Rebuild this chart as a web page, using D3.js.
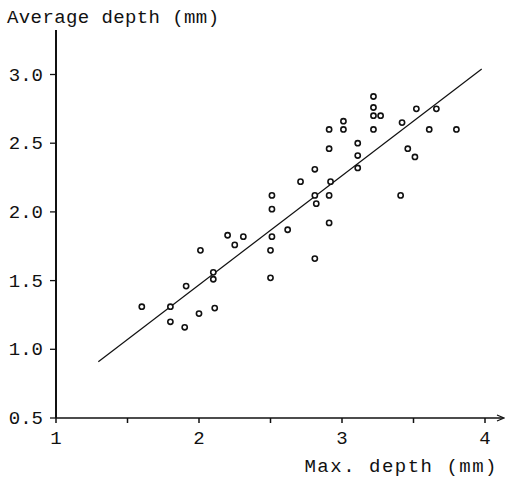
<!DOCTYPE html>
<html>
<head>
<meta charset="utf-8">
<script src="https://cdn.jsdelivr.net/npm/d3@7"></script>
<style>
  body { margin: 0; background: #fff; }
  text { font-family: "Courier New", "Liberation Mono", monospace; fill: #111; }
</style>
</head>
<body>
<div id="chart"></div>
<script>
var svgWidth = 505;
var svgHeight = 478;

// max depth (mm)
var maxDepth = [1.60, 1.80, 1.80, 1.90, 1.91, 2.00, 2.01, 2.10, 2.10, 2.11,
  2.20, 2.25, 2.31, 2.51, 2.51, 2.51, 2.50, 2.50, 2.62, 2.71,
  2.81, 2.81, 2.82, 2.81, 2.91, 2.91, 2.92, 2.91, 2.91, 3.01,
  3.01, 3.11, 3.11, 3.11, 3.22, 3.22, 3.22, 3.27, 3.22, 3.41,
  3.42, 3.46, 3.51, 3.52, 3.61, 3.66, 3.80];
// average depth (mm)
var avgDepth = [1.31, 1.31, 1.20, 1.16, 1.46, 1.26, 1.72, 1.56, 1.51, 1.30,
  1.83, 1.76, 1.82, 2.12, 2.02, 1.82, 1.72, 1.52, 1.87, 2.22,
  2.31, 2.12, 2.06, 1.66, 2.60, 2.46, 2.22, 2.12, 1.92, 2.66,
  2.60, 2.50, 2.41, 2.32, 2.84, 2.76, 2.70, 2.70, 2.60, 2.12,
  2.65, 2.46, 2.40, 2.75, 2.60, 2.75, 2.60];

// fitted line end points
var fitX = [1.296, 3.977];
var fitY = [0.91, 3.04];

var xTicks = [1, 2, 3, 4];
var xMinorTicks = [1.5, 2.5, 3.5];
var yTicks = [0.5, 1.0, 1.5, 2.0, 2.5, 3.0];

var data = maxDepth.map(function(d, i) { return { x: d, y: avgDepth[i] }; });

var svg = d3.select("#chart")
  .append("svg")
  .attr("width", svgWidth)
  .attr("height", svgHeight);

var xScale = d3.scaleLinear().domain([1, 4]).range([56, 485]);
var yScale = d3.scaleLinear().domain([0.5, 3.0]).range([418, 74.5]);

// x axis
svg.append("line")
  .attr("x1", 56).attr("x2", 503)
  .attr("y1", 418).attr("y2", 418)
  .attr("stroke", "#111").attr("stroke-width", 1.6);
svg.append("path")
  .attr("d", "M497,415 L504,418 L497,421")
  .attr("fill", "none").attr("stroke", "#111").attr("stroke-width", 1.2);

svg.selectAll(".xtick")
  .data(xTicks.concat(xMinorTicks))
  .enter().append("line")
  .attr("x1", d => xScale(d)).attr("x2", d => xScale(d))
  .attr("y1", 418).attr("y2", 423)
  .attr("stroke", "#111").attr("stroke-width", 1.5);

svg.selectAll(".xlab")
  .data(xTicks)
  .enter().append("text")
  .attr("x", d => xScale(d))
  .attr("y", 444)
  .attr("text-anchor", "middle")
  .attr("font-size", "19px")
  .text(d => d);

svg.append("text")
  .attr("x", 498)
  .attr("y", 472)
  .attr("text-anchor", "end")
  .attr("font-size", "19px")
  .attr("letter-spacing", "1.5px")
  .text("Max. depth (mm)");

// y axis
svg.append("line")
  .attr("x1", 56).attr("x2", 56)
  .attr("y1", 30).attr("y2", 418)
  .attr("stroke", "#111").attr("stroke-width", 2);

svg.selectAll(".ytick")
  .data(yTicks)
  .enter().append("line")
  .attr("x1", 50).attr("x2", 56)
  .attr("y1", d => yScale(d)).attr("y2", d => yScale(d))
  .attr("stroke", "#111").attr("stroke-width", 1.3);

svg.selectAll(".ylab")
  .data(yTicks)
  .enter().append("text")
  .attr("x", 43)
  .attr("y", d => yScale(d) + 6)
  .attr("text-anchor", "end")
  .attr("font-size", "19px")
  .text(d => d3.format(".1f")(d));

svg.append("text")
  .attr("x", 7)
  .attr("y", 23)
  .attr("font-size", "19px")
  .attr("letter-spacing", "0.4px")
  .text("Average depth (mm)");

// fitted line
svg.append("line")
  .attr("x1", xScale(fitX[0])).attr("y1", yScale(fitY[0]))
  .attr("x2", xScale(fitX[1])).attr("y2", yScale(fitY[1]))
  .attr("stroke", "#111").attr("stroke-width", 1.2);

// points
svg.append("g")
  .selectAll("circle")
  .data(data)
  .enter().append("circle")
  .attr("cx", d => xScale(d.x))
  .attr("cy", d => yScale(d.y))
  .attr("r", 2.6)
  .attr("fill", "#fff")
  .attr("stroke", "#111")
  .attr("stroke-width", 1.6);
</script>
</body>
</html>
